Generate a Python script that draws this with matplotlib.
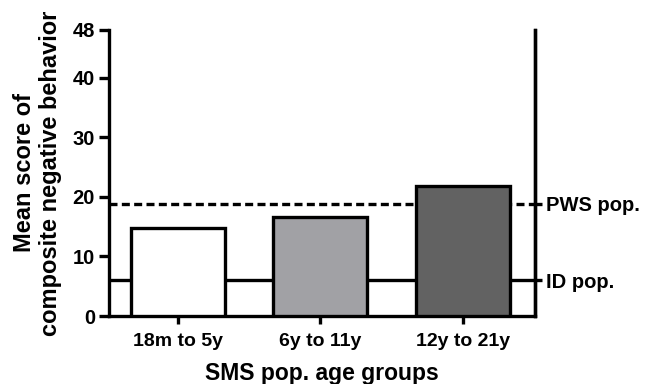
import matplotlib
matplotlib.use("Agg")
import matplotlib.pyplot as plt

# data
groups = ["18m to 5y", "6y to 11y", "12y to 21y"]
scores = [14.7, 16.7, 21.9]
bar_colors = ["#FFFFFF", "#A1A1A5", "#626262"]
id_pop = 6.0
pws_pop = 18.8
ref_labels = ["ID pop.", "PWS pop."]
y_ticks = [0, 10, 20, 30, 40, 48]

plt.rcParams["font.family"] = "Liberation Sans"
plt.rcParams["font.weight"] = "bold"

fig = plt.figure(figsize=(6.45, 3.84), dpi=100)
ax = fig.add_axes([0.169, 0.177, 0.66, 0.745])

lw = 2.4
x = list(range(len(groups)))

# reference population lines (behind the bars)
ax.axhline(id_pop, color="black", linewidth=lw, zorder=1)
ax.axhline(pws_pop, color="black", linewidth=lw, linestyle=(0, (2.4, 1.3)), zorder=1)

ax.bar(x, scores, width=0.66, color=bar_colors, edgecolor="black",
       linewidth=lw, zorder=3)

ax.set_xlim(-0.485, 2.505)
ax.set_ylim(0, 48)
ax.set_yticks(y_ticks)
ax.set_yticklabels([str(t) for t in y_ticks], fontsize=14.5, fontweight="bold")
ax.set_xticks(x)
ax.set_xticklabels(groups, fontsize=14, fontweight="bold")

ax.spines["top"].set_visible(False)
for side in ["left", "bottom", "right"]:
    ax.spines[side].set_linewidth(lw)
ax.tick_params(axis="y", width=lw, length=7, direction="out", pad=3)
ax.tick_params(axis="x", width=lw, length=6, direction="out", pad=6)

ax.set_ylabel("Mean score of\ncomposite negative behavior", fontsize=17,
              fontweight="bold", labelpad=8, linespacing=1.15)
ax.set_xlabel("SMS pop. age groups", fontsize=16.5, fontweight="bold", labelpad=9)

# right axis with population labels
ax2 = ax.twinx()
ax2.set_ylim(0, 48)
ax2.set_yticks([id_pop, pws_pop])
ax2.set_yticklabels(ref_labels, fontsize=14.5, fontweight="bold")
ax2.tick_params(axis="y", width=lw, length=5, direction="out", pad=3)
for side in ["top", "left", "bottom"]:
    ax2.spines[side].set_visible(False)
ax2.spines["right"].set_linewidth(lw)

plt.savefig("out.png", dpi=100)
